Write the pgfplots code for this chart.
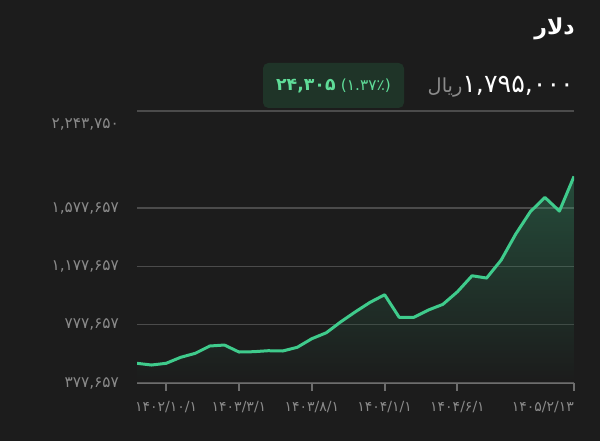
\documentclass[border=0pt]{standalone}
\usepackage{pgfplots}
\pgfplotsset{compat=1.18}
\usepackage{fontspec}
\setmainfont{DejaVu Sans}
\newfontfamily\fa[Script=Arabic]{DejaVu Sans}
\TeXXeTstate=1
\newcommand{\cm}{,}
\definecolor{bg}{HTML}{1C1C1C}
\definecolor{lineg}{HTML}{3FCB8C}
\definecolor{gridc}{HTML}{4B4B4B}
\definecolor{axisc}{HTML}{6E6E6E}
\definecolor{tickc}{HTML}{8A8A8A}
\definecolor{badgebg}{HTML}{1F3428}
\definecolor{badgetx}{HTML}{5FDC98}
\definecolor{unitc}{HTML}{8C8C8C}
\pgfplotstableread{
x y
0 512700
1 501000
2 512700
3 553900
4 581300
5 631400
6 638200
7 590200
8 592300
9 599100
10 597100
11 622500
12 681400
13 722600
14 798000
15 866600
16 931000
17 983100
18 828200
19 828200
20 878200
21 917300
22 1003700
23 1113400
24 1097600
25 1221100
26 1399400
27 1552300
28 1651000
29 1557100
30 1795000
}\dollar
\begin{document}
\begin{tikzpicture}
\path[use as bounding box, fill=bg] (0,0) rectangle (450pt,330.75pt);
% title
\node[anchor=east, text=white, inner sep=0pt, font=\fa\bfseries\fontsize{16.5}{18}\selectfont] at (431.25pt,308.75pt) {\beginR دلار\endR};
% price
\node[anchor=east, inner sep=0pt] at (430.5pt,265.5pt) {{\color{unitc}\fa\fontsize{14.5}{16}\selectfont\beginR ریال\endR}{\color{white}\fa\fontsize{19}{21}\selectfont ۱,۷۹۵,۰۰۰}};
% badge
\fill[badgebg, rounded corners=4pt] (197.25pt,249.75pt) rectangle (303pt,283.5pt);
\node[text=badgetx, inner sep=0pt] at (250.1pt,266.6pt) {{\fa\bfseries\fontsize{13}{15}\selectfont ۲۴,۳۰۵}\hspace{4pt}{\fa\fontsize{11.5}{13}\selectfont (۱.۳۷٪)}};
\begin{axis}[
  at={(102.75pt,43.5pt)}, anchor=south west,
  scale only axis, width=327.75pt, height=204pt,
  xmin=0, xmax=30, ymin=377657, ymax=2243750,
  axis x line*=bottom, axis y line*=left,
  x axis line style={-, color=axisc, line width=1.5pt},
  y axis line style={draw=none},
  xtick={2,7,12,17,22},
  xticklabels={۱۴۰۲/۱۰/۱,۱۴۰۳/۳/۱,۱۴۰۳/۸/۱,۱۴۰۴/۱/۱,۱۴۰۴/۶/۱},
  extra x ticks={30},
  extra x tick labels={۱۴۰۵/۲/۱۳},
  extra x tick style={grid=none, xticklabel style={anchor=north east, xshift=3.5pt}},
  ytick={377657,777657,1177657,1577657},
  yticklabels={{۳۷۷,۶۵۷},{۷۷۷,۶۵۷},{۱,۱۷۷,۶۵۷},{۱,۵۷۷,۶۵۷}},
  extra y ticks={2243750},
  extra y tick labels={۲\cm۲۴۳\cm۷۵۰},
  extra y tick style={grid=major, yticklabel style={yshift=-9.75pt}, ytick style={draw=none}},
  ymajorgrids,
  grid style={color=gridc, line width=1pt},
  tick align=outside,
  xtick style={color=axisc, line width=1.5pt},
  major tick length=6pt,
  ytick style={draw=none},
  yticklabel style={font=\fa\fontsize{11.5}{13}\selectfont, text=tickc, xshift=-4pt},
  xticklabel style={font=\fa\fontsize{10.5}{12}\selectfont, text=tickc, yshift=-4pt},
  scaled y ticks=false,
]
\addplot[draw=none, top color=lineg, bottom color=bg, fill opacity=0.28] table[x=x,y=y] {\dollar} \closedcycle;
\addplot[color=lineg, line width=2.25pt, line join=round, mark=none] table[x=x,y=y] {\dollar};
\end{axis}
\end{tikzpicture}
\end{document}
